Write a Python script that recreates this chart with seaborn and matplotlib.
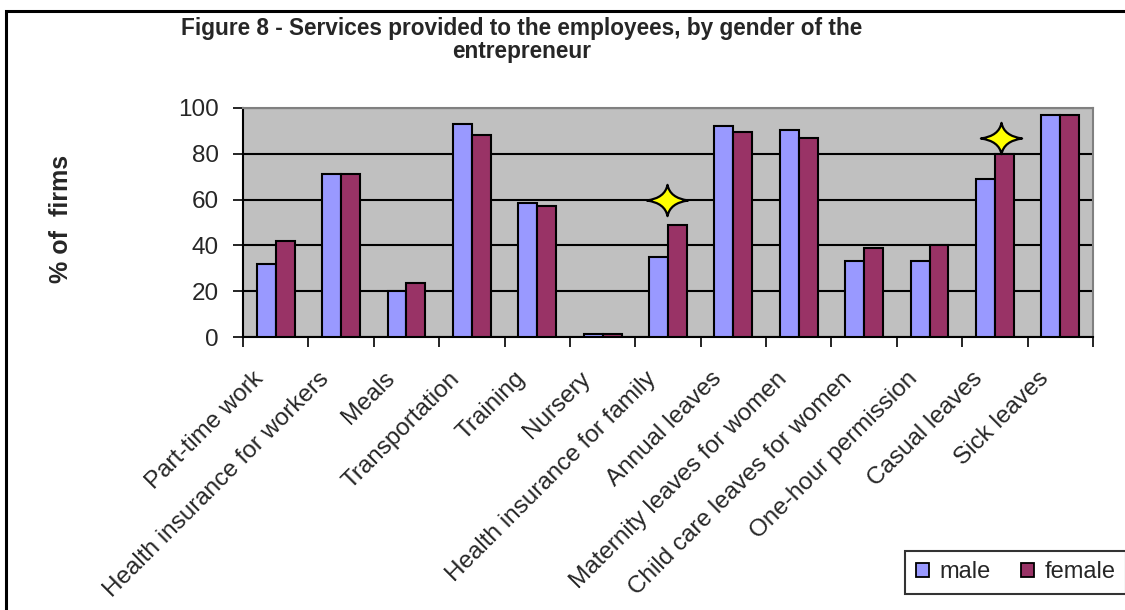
import numpy as np
import pandas as pd
import matplotlib
matplotlib.use("Agg")
import matplotlib.pyplot as plt
from matplotlib.patches import Rectangle, Patch
from matplotlib.path import Path
from matplotlib.transforms import ScaledTranslation
import seaborn as sns

# Services offered to employees (% of firms), by gender of the entrepreneur
services = [
    "Part-time work", "Health insurance for workers", "Meals", "Transportation",
    "Training", "Nursery", "Health insurance for family", "Annual leaves",
    "Maternity leaves for women", "Child care leaves for women",
    "One-hour permission", "Casual leaves", "Sick leaves",
]
male = [32, 71, 20, 93, 58.5, 1.3, 35, 92, 90.5, 33, 33, 69, 97]
female = [42, 71, 23.5, 88, 57, 1.3, 49, 89.5, 87, 39, 40, 80, 97]
genders = ["male", "female"]

# Services where the gap between genders is highlighted
highlighted = ["Health insurance for family", "Casual leaves"]
highlight_levels = [60, 87]

title = "Figure 8 - Services provided to the employees, by gender of the\nentrepreneur"
ylabel = "% of  firms"
yticks = [0, 20, 40, 60, 80, 100]

df = pd.DataFrame({
    "service": services * 2,
    "gender": ["male"] * len(services) + ["female"] * len(services),
    "pct": male + female,
})

sns.set_theme(style="white")
plt.rcParams["font.family"] = ["Liberation Sans", "DejaVu Sans"]

fig = plt.figure(figsize=(11.25, 6.1), dpi=100)
ax = fig.add_axes([243 / 1125, 1 - 337 / 610, 850 / 1125, 229 / 610])

colors = {"male": "#9999FF", "female": "#993366"}
sns.barplot(data=df, x="service", y="pct", hue="gender", order=services,
            hue_order=genders, palette=colors, width=0.58, saturation=1,
            edgecolor="black", linewidth=1.5, legend=False, ax=ax, zorder=3)

ax.set_facecolor("#C0C0C0")
ax.set_xlim(-0.5, len(services) - 0.5)
ax.set_ylim(0, 100)
ax.set_yticks(yticks)
ax.tick_params(axis="y", labelsize=17.5, length=7, width=1.2, color="black",
               direction="out", left=True, pad=10.5)
ax.yaxis.grid(True, color="black", linewidth=1.5, zorder=1)
ax.set_axisbelow(True)

# Category labels at centres, tick marks on category boundaries
ax.set_xticks(np.arange(len(services)))
ax.set_xticklabels(services, rotation=45, ha="right", va="top",
                   rotation_mode="anchor", fontsize=17.5)
ax.tick_params(axis="x", which="major", length=0, pad=22)
shift = ScaledTranslation(-23 / 100, 0, fig.dpi_scale_trans)
for lab in ax.get_xticklabels():
    lab.set_transform(lab.get_transform() + shift)
ax.set_xticks(np.arange(-0.5, len(services)), minor=True)
ax.tick_params(axis="x", which="minor", length=7, width=1.2, color="black",
               direction="out", bottom=True)

ax.set_xlabel("")
ax.set_ylabel("")
for side in ("left", "bottom"):
    ax.spines[side].set_color("black")
    ax.spines[side].set_linewidth(1.5)
for side in ("top", "right"):
    ax.spines[side].set_visible(True)
    ax.spines[side].set_color("#808080")
    ax.spines[side].set_linewidth(1.5)

# Four-pointed star marker with concave sides
h = 0.76
c = 0.12
star_verts = [(0, h), (c, c), (1, 0),
              (c, -c), (0, -h),
              (-c, -c), (-1, 0),
              (-c, c), (0, h),
              (0, h)]
star_codes = [Path.MOVETO, Path.CURVE3, Path.CURVE3,
              Path.CURVE3, Path.CURVE3,
              Path.CURVE3, Path.CURVE3,
              Path.CURVE3, Path.CURVE3,
              Path.CLOSEPOLY]
star = Path(star_verts, star_codes)
star_x = [services.index(s) + (0.1 if s == "Casual leaves" else -0.02)
          for s in highlighted]
ax.scatter(star_x, highlight_levels, marker=star, s=880, facecolor="#FFFF00",
           edgecolor="black", linewidth=1.6, zorder=5, clip_on=False)

fig.text(522 / 1125, 1 - 40 / 610, title, ha="center", va="center",
         fontsize=16.3, fontweight="bold", linespacing=1.05)
fig.text(61 / 1125, 1 - 219 / 610, ylabel, rotation=90, ha="center",
         va="center", fontsize=18, fontweight="bold")

# Chart frame (runs off the right and bottom edges)
fig.patches.append(Rectangle((6 / 1125, -0.05), 1.2, 1 - 10.5 / 610 + 0.05,
                             transform=fig.transFigure, fill=False,
                             edgecolor="black", linewidth=2.2))

handles = [Patch(facecolor=colors[g], edgecolor="black", linewidth=1.3, label=g)
           for g in genders]
leg = fig.legend(handles=handles, loc="lower left",
                 bbox_to_anchor=(905 / 1125, 1 - 594 / 610), ncol=2,
                 fontsize=17, frameon=True, fancybox=False, handlelength=0.55,
                 handleheight=0.55, handletextpad=0.45, columnspacing=1.3,
                 borderpad=0.45, borderaxespad=0)
leg.get_frame().set_edgecolor("black")
leg.get_frame().set_linewidth(1.5)

fig.savefig("out.png", dpi=100, facecolor="white")
